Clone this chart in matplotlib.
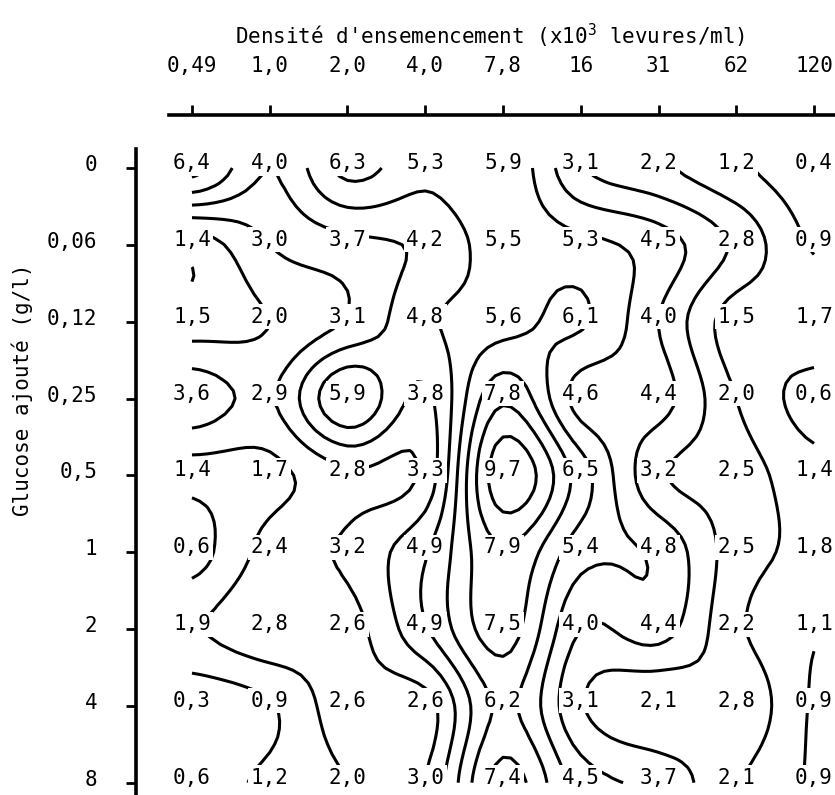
import numpy as np
import matplotlib.pyplot as plt
from matplotlib.transforms import ScaledTranslation

plt.rcParams['font.family'] = ['DejaVu Sans Mono']
plt.rcParams['mathtext.fontset'] = 'custom'
plt.rcParams['mathtext.rm'] = 'DejaVu Sans Mono'
plt.rcParams['mathtext.it'] = 'DejaVu Sans Mono'

# ======================================================
# Data: densite d'ensemencement (colonnes) x glucose ajoute (lignes)
# ======================================================
density_labels = ["0,49", "1,0", "2,0", "4,0", "7,8", "16", "31", "62", "120"]
glucose_labels = ["0", "0,06", "0,12", "0,25", "0,5", "1", "2", "4", "8"]

glucose_0 = [6.4, 4.0, 6.3, 5.3, 5.9, 3.1, 2.2, 1.2, 0.4]
glucose_006 = [1.4, 3.0, 3.7, 4.2, 5.5, 5.3, 4.5, 2.8, 0.9]
glucose_012 = [1.5, 2.0, 3.1, 4.8, 5.6, 6.1, 4.0, 1.5, 1.7]
glucose_025 = [3.6, 2.9, 5.9, 3.8, 7.8, 4.6, 4.4, 2.0, 0.6]
glucose_05 = [1.4, 1.7, 2.8, 3.3, 9.7, 6.5, 3.2, 2.5, 1.4]
glucose_1 = [0.6, 2.4, 3.2, 4.9, 7.9, 5.4, 4.8, 2.5, 1.8]
glucose_2 = [1.9, 2.8, 2.6, 4.9, 7.5, 4.0, 4.4, 2.2, 1.1]
glucose_4 = [0.3, 0.9, 2.6, 2.6, 6.2, 3.1, 2.1, 2.8, 0.9]
glucose_8 = [0.6, 1.2, 2.0, 3.0, 7.4, 4.5, 3.7, 2.1, 0.9]

levels = [1, 2, 3, 4, 5, 6, 7, 8, 9]

Z = np.array([glucose_0, glucose_006, glucose_012, glucose_025, glucose_05,
              glucose_1, glucose_2, glucose_4, glucose_8])
n_rows, n_cols = Z.shape


def catmull_rom(n, k):
    # weights to resample n grid nodes onto a k-times finer grid
    t = np.linspace(0, n - 1, (n - 1) * k + 1)
    W = np.zeros((len(t), n))
    for r, ti in enumerate(t):
        i = min(int(np.floor(ti)), n - 2)
        u = ti - i
        w = [(-u**3 + 2*u**2 - u) / 2,
             (3*u**3 - 5*u**2 + 2) / 2,
             (-3*u**3 + 4*u**2 + u) / 2,
             (u**3 - u**2) / 2]
        for j, wj in zip([i - 1, i, i + 1, i + 2], w):
            W[r, min(max(j, 0), n - 1)] += wj
    return t, W


tx, Wx = catmull_rom(n_cols, 10)
ty, Wy = catmull_rom(n_rows, 10)
Z_smooth = Wy @ Z @ Wx.T

# ======================================================
# Figure
# ======================================================
fig = plt.figure(figsize=(8.35, 7.95), dpi=100)
ax = fig.add_axes([136 / 835, 0.0, 699 / 835, 680 / 795])

ax.contour(tx, ty, Z_smooth, levels=levels, colors='black', linewidths=2.2)

for i in range(n_rows):
    for j in range(n_cols):
        ax.text(j, i - 0.065, f"{Z[i, j]:.1f}".replace('.', ','),
                ha='center', va='center', fontsize=15, zorder=3,
                bbox=dict(boxstyle='square,pad=0.12', fc='white', ec='none'))

ax.set_xlim(-0.72, 8.27)
ax.set_ylim(8.16, -0.69)

ax.xaxis.tick_top()
ax.set_xticks(range(n_cols))
ax.set_xticklabels(density_labels, fontsize=15)
ax.set_yticks(range(n_rows))
ax.set_yticklabels(glucose_labels, fontsize=15)
ax.tick_params(axis='x', direction='out', length=7, width=2, pad=21)
ax.tick_params(axis='y', direction='out', length=7, width=2, pad=21)

shift = ScaledTranslation(0, 5 / 100, fig.dpi_scale_trans)
for lab in ax.get_yticklabels():
    lab.set_transform(lab.get_transform() + shift)

ax.spines['bottom'].set_visible(False)
ax.spines['right'].set_visible(False)
ax.spines['top'].set_linewidth(2.6)
ax.spines['left'].set_linewidth(2.6)
ax.spines['top'].set_bounds(-0.30, 8.27)
ax.spines['left'].set_bounds(-0.25, 8.16)

fig.text(490 / 835, 1 - 36 / 795,
         r"Densité d'ensemencement (x10$^{3}$ levures/ml)",
         ha='center', va='center', fontsize=15)
fig.text(22 / 835, 1 - 390 / 795, "Glucose ajouté (g/l)",
         rotation=90, ha='center', va='center', fontsize=15)

plt.savefig("out.png", dpi=100)
plt.close()
